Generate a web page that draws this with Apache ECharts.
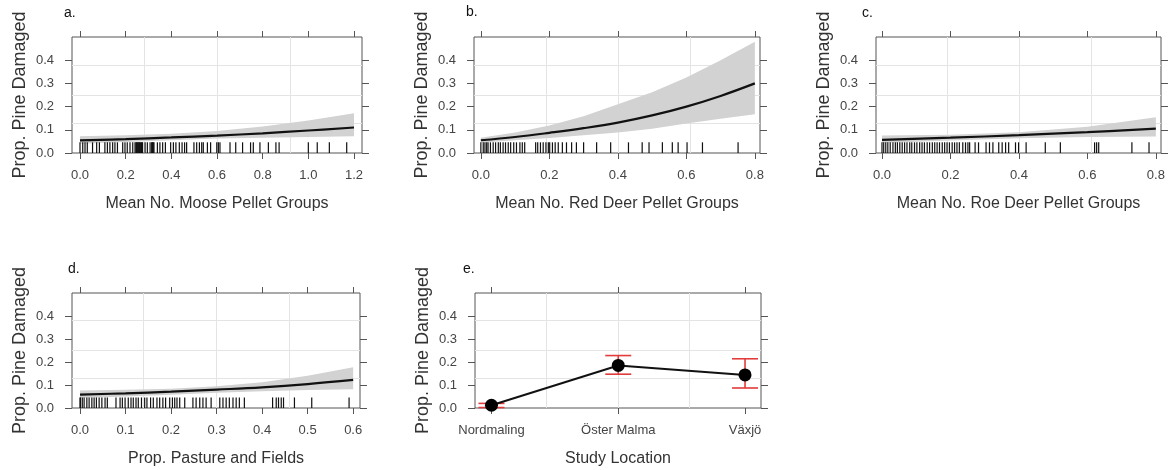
<!DOCTYPE html>
<html lang="en">
<head>
<meta charset="utf-8">
<title>Prop. Pine Damaged - effect plots</title>
<script src="https://cdn.jsdelivr.net/npm/echarts@6.0.0/dist/echarts.min.js"></script>
<style>
  html, body { margin: 0; padding: 0; background: #fff; }
  #chart { width: 1172px; height: 470px; }
</style>
</head>
<body>
<div id="chart"></div>
<script>
// ---- data ----
// a. moose
var mooseX   = [0, 0.2, 0.4, 0.6, 0.8, 1.0, 1.2];
var mooseFit = [0.054, 0.060, 0.067, 0.075, 0.085, 0.097, 0.110];
var mooseLo  = [0.040, 0.047, 0.055, 0.062, 0.066, 0.069, 0.072];
var mooseHi  = [0.072, 0.076, 0.083, 0.095, 0.114, 0.140, 0.171];
var mooseRug = [0.000, 0.012, 0.022, 0.032, 0.055, 0.073, 0.085, 0.109, 0.120, 0.131, 0.143, 0.153,
                0.164, 0.187, 0.197, 0.207, 0.219, 0.231, 0.241, 0.245, 0.248, 0.251, 0.254, 0.257,
                0.260, 0.263, 0.266, 0.269, 0.272, 0.274, 0.285, 0.295, 0.307, 0.314, 0.316, 0.318,
                0.321, 0.324, 0.339, 0.350, 0.362, 0.374, 0.397, 0.409, 0.420, 0.435, 0.447, 0.458,
                0.467, 0.499, 0.511, 0.523, 0.533, 0.540, 0.558, 0.572, 0.599, 0.606, 0.613, 0.657,
                0.682, 0.712, 0.747, 0.759, 0.788, 0.825, 0.858, 0.872, 1.000, 1.039, 1.092, 1.168];
// b. red deer
var redX   = [0, 0.1, 0.2, 0.3, 0.4, 0.5, 0.6, 0.7, 0.8];
var redFit = [0.055, 0.069, 0.087, 0.107, 0.131, 0.162, 0.200, 0.246, 0.300];
var redLo  = [0.044, 0.055, 0.065, 0.076, 0.088, 0.105, 0.127, 0.148, 0.167];
var redHi  = [0.066, 0.088, 0.118, 0.158, 0.210, 0.262, 0.325, 0.400, 0.480];
var redRug = [0.000, 0.007, 0.012, 0.017, 0.021, 0.028, 0.036, 0.043, 0.051, 0.057, 0.065, 0.072,
              0.080, 0.087, 0.096, 0.104, 0.114, 0.121, 0.128, 0.160, 0.166, 0.174, 0.182, 0.190,
              0.197, 0.201, 0.209, 0.217, 0.226, 0.238, 0.250, 0.265, 0.279, 0.300, 0.338, 0.379,
              0.431, 0.471, 0.491, 0.530, 0.559, 0.576, 0.602, 0.647, 0.751];
// c. roe deer
var roeX   = [0, 0.2, 0.4, 0.6, 0.8];
var roeFit = [0.057, 0.066, 0.077, 0.090, 0.105];
var roeLo  = [0.043, 0.054, 0.064, 0.069, 0.071];
var roeHi  = [0.075, 0.079, 0.089, 0.113, 0.154];
var roeRug = [0.000, 0.005, 0.011, 0.017, 0.024, 0.032, 0.039, 0.045, 0.052, 0.059, 0.066, 0.073,
              0.081, 0.087, 0.095, 0.102, 0.110, 0.117, 0.124, 0.132, 0.139, 0.147, 0.154, 0.161,
              0.168, 0.176, 0.183, 0.190, 0.197, 0.205, 0.212, 0.219, 0.226, 0.236, 0.244, 0.251,
              0.256, 0.272, 0.282, 0.304, 0.314, 0.324, 0.341, 0.351, 0.361, 0.370, 0.390, 0.399,
              0.421, 0.477, 0.521, 0.621, 0.627, 0.633, 0.730, 0.780];
// d. pasture and fields
var pastX   = [0, 0.1, 0.2, 0.3, 0.4, 0.5, 0.6];
var pastFit = [0.058, 0.064, 0.071, 0.080, 0.090, 0.104, 0.122];
var pastLo  = [0.043, 0.050, 0.058, 0.066, 0.073, 0.078, 0.082];
var pastHi  = [0.076, 0.079, 0.084, 0.095, 0.112, 0.140, 0.177];
var pastRug = [0.000, 0.001, 0.005, 0.009, 0.015, 0.020, 0.026, 0.031, 0.036, 0.042, 0.048, 0.055,
               0.060, 0.079, 0.088, 0.093, 0.099, 0.106, 0.112, 0.117, 0.123, 0.128, 0.135, 0.142,
               0.147, 0.155, 0.161, 0.169, 0.175, 0.182, 0.188, 0.197, 0.203, 0.208, 0.213, 0.219,
               0.230, 0.248, 0.255, 0.263, 0.270, 0.277, 0.288, 0.307, 0.314, 0.321, 0.328, 0.336,
               0.343, 0.350, 0.361, 0.423, 0.431, 0.436, 0.442, 0.447, 0.471, 0.509, 0.591];
// e. study location
var locations = ['Nordmaling', 'Öster Malma', 'Växjö'];
var locFit = [0.012, 0.185, 0.144];
var locLo  = [0.002, 0.147, 0.087];
var locHi  = [0.020, 0.228, 0.214];

// tick values
var yTicks     = [0, 0.1, 0.2, 0.3, 0.4];
var mooseTicks = [0, 0.2, 0.4, 0.6, 0.8, 1.0, 1.2];
var deerTicks  = [0, 0.2, 0.4, 0.6, 0.8];
var pastTicks  = [0, 0.1, 0.2, 0.3, 0.4, 0.5, 0.6];
var locTicks   = [0, 1, 2];

var FONT = 'Liberation Sans, Arial, sans-serif';
var BOX = '#555';
var Y_MAX = 0.5;
var RUG_TOP = 0.046;

// panel layout: grid box + x range
var panels = [
  { tag: 'a.', grid: [72, 37, 290, 116],  xr: [-0.035, 1.235], ticks: mooseTicks, title: 'Mean No. Moose Pellet Groups', tagPos: [64, 6] },
  { tag: 'b.', grid: [474, 37, 286, 116], xr: [-0.02, 0.815],  ticks: deerTicks,  title: 'Mean No. Red Deer Pellet Groups', tagPos: [466, 5] },
  { tag: 'c.', grid: [876, 37, 285, 116], xr: [-0.0175, 0.815], ticks: deerTicks, title: 'Mean No. Roe Deer Pellet Groups', tagPos: [862, 6] },
  { tag: 'd.', grid: [72, 293, 288, 115], xr: [-0.0176, 0.615], ticks: pastTicks, title: 'Prop. Pasture and Fields', tagPos: [68, 262] },
  { tag: 'e.', grid: [475, 293, 286, 115], xr: [-0.13, 2.126], ticks: locTicks,   title: 'Study Location', tagPos: [463, 262] }
];

var grids = [], xAxes = [], yAxes = [], titles = [];
panels.forEach(function (p, i) {
  grids.push({ left: p.grid[0], top: p.grid[1], width: p.grid[2], height: p.grid[3],
               show: true, borderColor: BOX, borderWidth: 1 });
  titles.push({ text: p.tag, left: p.tagPos[0], top: p.tagPos[1], padding: 0,
                textStyle: { fontFamily: FONT, fontSize: 14, fontWeight: 'normal', color: '#111' } });
  var isLoc = i === 4;
  var tick = { show: true, inside: false, length: 6, customValues: p.ticks, lineStyle: { color: BOX } };
  var yTick = { show: true, inside: false, length: 7, customValues: yTicks, lineStyle: { color: BOX } };
  // bottom x axis
  xAxes.push({
    gridIndex: i, type: 'value', position: 'bottom', min: p.xr[0], max: p.xr[1],
    name: p.title, nameLocation: 'middle', nameGap: 43,
    nameTextStyle: { fontFamily: FONT, fontSize: 16, color: '#333' },
    axisLine: { show: false, onZero: false }, splitLine: { show: false },
    axisTick: tick,
    axisLabel: { customValues: p.ticks, margin: 16, fontFamily: FONT, fontSize: 13, color: '#444',
                 formatter: function (v) { return isLoc ? locations[Math.round(v)] : v.toFixed(1); } }
  });
  // top x axis (ticks only)
  xAxes.push({
    gridIndex: i, type: 'value', position: 'top', min: p.xr[0], max: p.xr[1],
    axisLine: { show: false, onZero: false }, splitLine: { show: false }, axisLabel: { show: false },
    axisTick: tick
  });
  // left y axis
  yAxes.push({
    gridIndex: i, type: 'value', position: 'left', min: 0, max: Y_MAX,
    name: 'Prop. Pine Damaged', nameLocation: 'middle', nameGap: 43,
    nameTextStyle: { fontFamily: FONT, fontSize: 18, color: '#333' },
    axisLine: { show: false, onZero: false }, splitLine: { show: false },
    axisTick: yTick,
    axisLabel: { customValues: yTicks, margin: 18, fontFamily: FONT, fontSize: 13, color: '#444',
                 formatter: function (v) { return v.toFixed(1); } }
  });
  // right y axis (ticks only)
  yAxes.push({
    gridIndex: i, type: 'value', position: 'right', min: 0, max: Y_MAX,
    axisLine: { show: false, onZero: false }, splitLine: { show: false }, axisLabel: { show: false },
    axisTick: yTick
  });
});

// light reference lines at the quarters of each panel
function quarterLines(i) {
  var xr = panels[i].xr, q = (xr[1] - xr[0]) / 4;
  return {
    silent: true, symbol: ['none', 'none'], z: 0, animation: false,
    label: { show: false },
    lineStyle: { color: '#e4e4e4', width: 1, type: 'solid' },
    data: [
      { xAxis: xr[0] + q }, { xAxis: xr[0] + 2 * q }, { xAxis: xr[0] + 3 * q },
      { yAxis: Y_MAX / 4 }, { yAxis: Y_MAX / 2 }, { yAxis: 3 * Y_MAX / 4 }
    ]
  };
}

function bandSeries(i, xs, lo, hi) {
  return {
    type: 'custom', xAxisIndex: 2 * i, yAxisIndex: 2 * i, silent: true, z: 1,
    data: xs.map(function (x, k) { return [x, lo[k], hi[k]]; }),
    renderItem: function (params, api) {
      if (params.dataIndex !== 0) return null;
      var top = xs.map(function (x, k) { return api.coord([x, hi[k]]); });
      var bot = xs.map(function (x, k) { return api.coord([x, lo[k]]); }).reverse();
      return { type: 'polygon', shape: { points: top.concat(bot) }, style: { fill: '#d2d2d2' } };
    }
  };
}

function fitSeries(i, xs, fit) {
  return {
    type: 'line', xAxisIndex: 2 * i, yAxisIndex: 2 * i, z: 3, silent: true,
    data: xs.map(function (x, k) { return [x, fit[k]]; }),
    smooth: 0.4, showSymbol: false, symbol: 'none',
    lineStyle: { color: '#111', width: 2.2 },
    markLine: quarterLines(i)
  };
}

function rugSeries(i, rug) {
  return {
    type: 'custom', xAxisIndex: 2 * i, yAxisIndex: 2 * i, silent: true, z: 2,
    data: rug.map(function (v) { return [v]; }),
    renderItem: function (params, api) {
      var p0 = api.coord([api.value(0), 0]);
      var p1 = api.coord([api.value(0), RUG_TOP]);
      return { type: 'line', shape: { x1: p0[0], y1: p0[1], x2: p1[0], y2: p1[1] },
               style: { stroke: '#111', lineWidth: 1.2 } };
    }
  };
}

var series = [
  bandSeries(0, mooseX, mooseLo, mooseHi), rugSeries(0, mooseRug), fitSeries(0, mooseX, mooseFit),
  bandSeries(1, redX, redLo, redHi),       rugSeries(1, redRug),   fitSeries(1, redX, redFit),
  bandSeries(2, roeX, roeLo, roeHi),       rugSeries(2, roeRug),   fitSeries(2, roeX, roeFit),
  bandSeries(3, pastX, pastLo, pastHi),    rugSeries(3, pastRug),  fitSeries(3, pastX, pastFit),
  // e. error bars
  {
    type: 'custom', xAxisIndex: 8, yAxisIndex: 8, silent: true, z: 2,
    data: locations.map(function (n, k) { return [k, locLo[k], locHi[k]]; }),
    renderItem: function (params, api) {
      var lo = api.coord([api.value(0), api.value(1)]);
      var hi = api.coord([api.value(0), api.value(2)]);
      var w = 13, st = { stroke: '#e23b3b', lineWidth: 1.6 };
      return { type: 'group', children: [
        { type: 'line', shape: { x1: lo[0], y1: lo[1], x2: hi[0], y2: hi[1] }, style: st },
        { type: 'line', shape: { x1: lo[0] - w, y1: lo[1], x2: lo[0] + w, y2: lo[1] }, style: st },
        { type: 'line', shape: { x1: hi[0] - w, y1: hi[1], x2: hi[0] + w, y2: hi[1] }, style: st }
      ] };
    }
  },
  {
    type: 'line', xAxisIndex: 8, yAxisIndex: 8, z: 3, silent: true,
    data: locations.map(function (n, k) { return [k, locFit[k]]; }),
    symbol: 'circle', symbolSize: 13,
    itemStyle: { color: '#000' }, lineStyle: { color: '#111', width: 2 },
    markLine: quarterLines(4)
  }
];

var chart = echarts.init(document.getElementById('chart'), null, { renderer: 'canvas' });
chart.setOption({
  animation: false,
  backgroundColor: '#fff',
  title: titles,
  grid: grids,
  xAxis: xAxes,
  yAxis: yAxes,
  series: series
});
</script>
</body>
</html>
